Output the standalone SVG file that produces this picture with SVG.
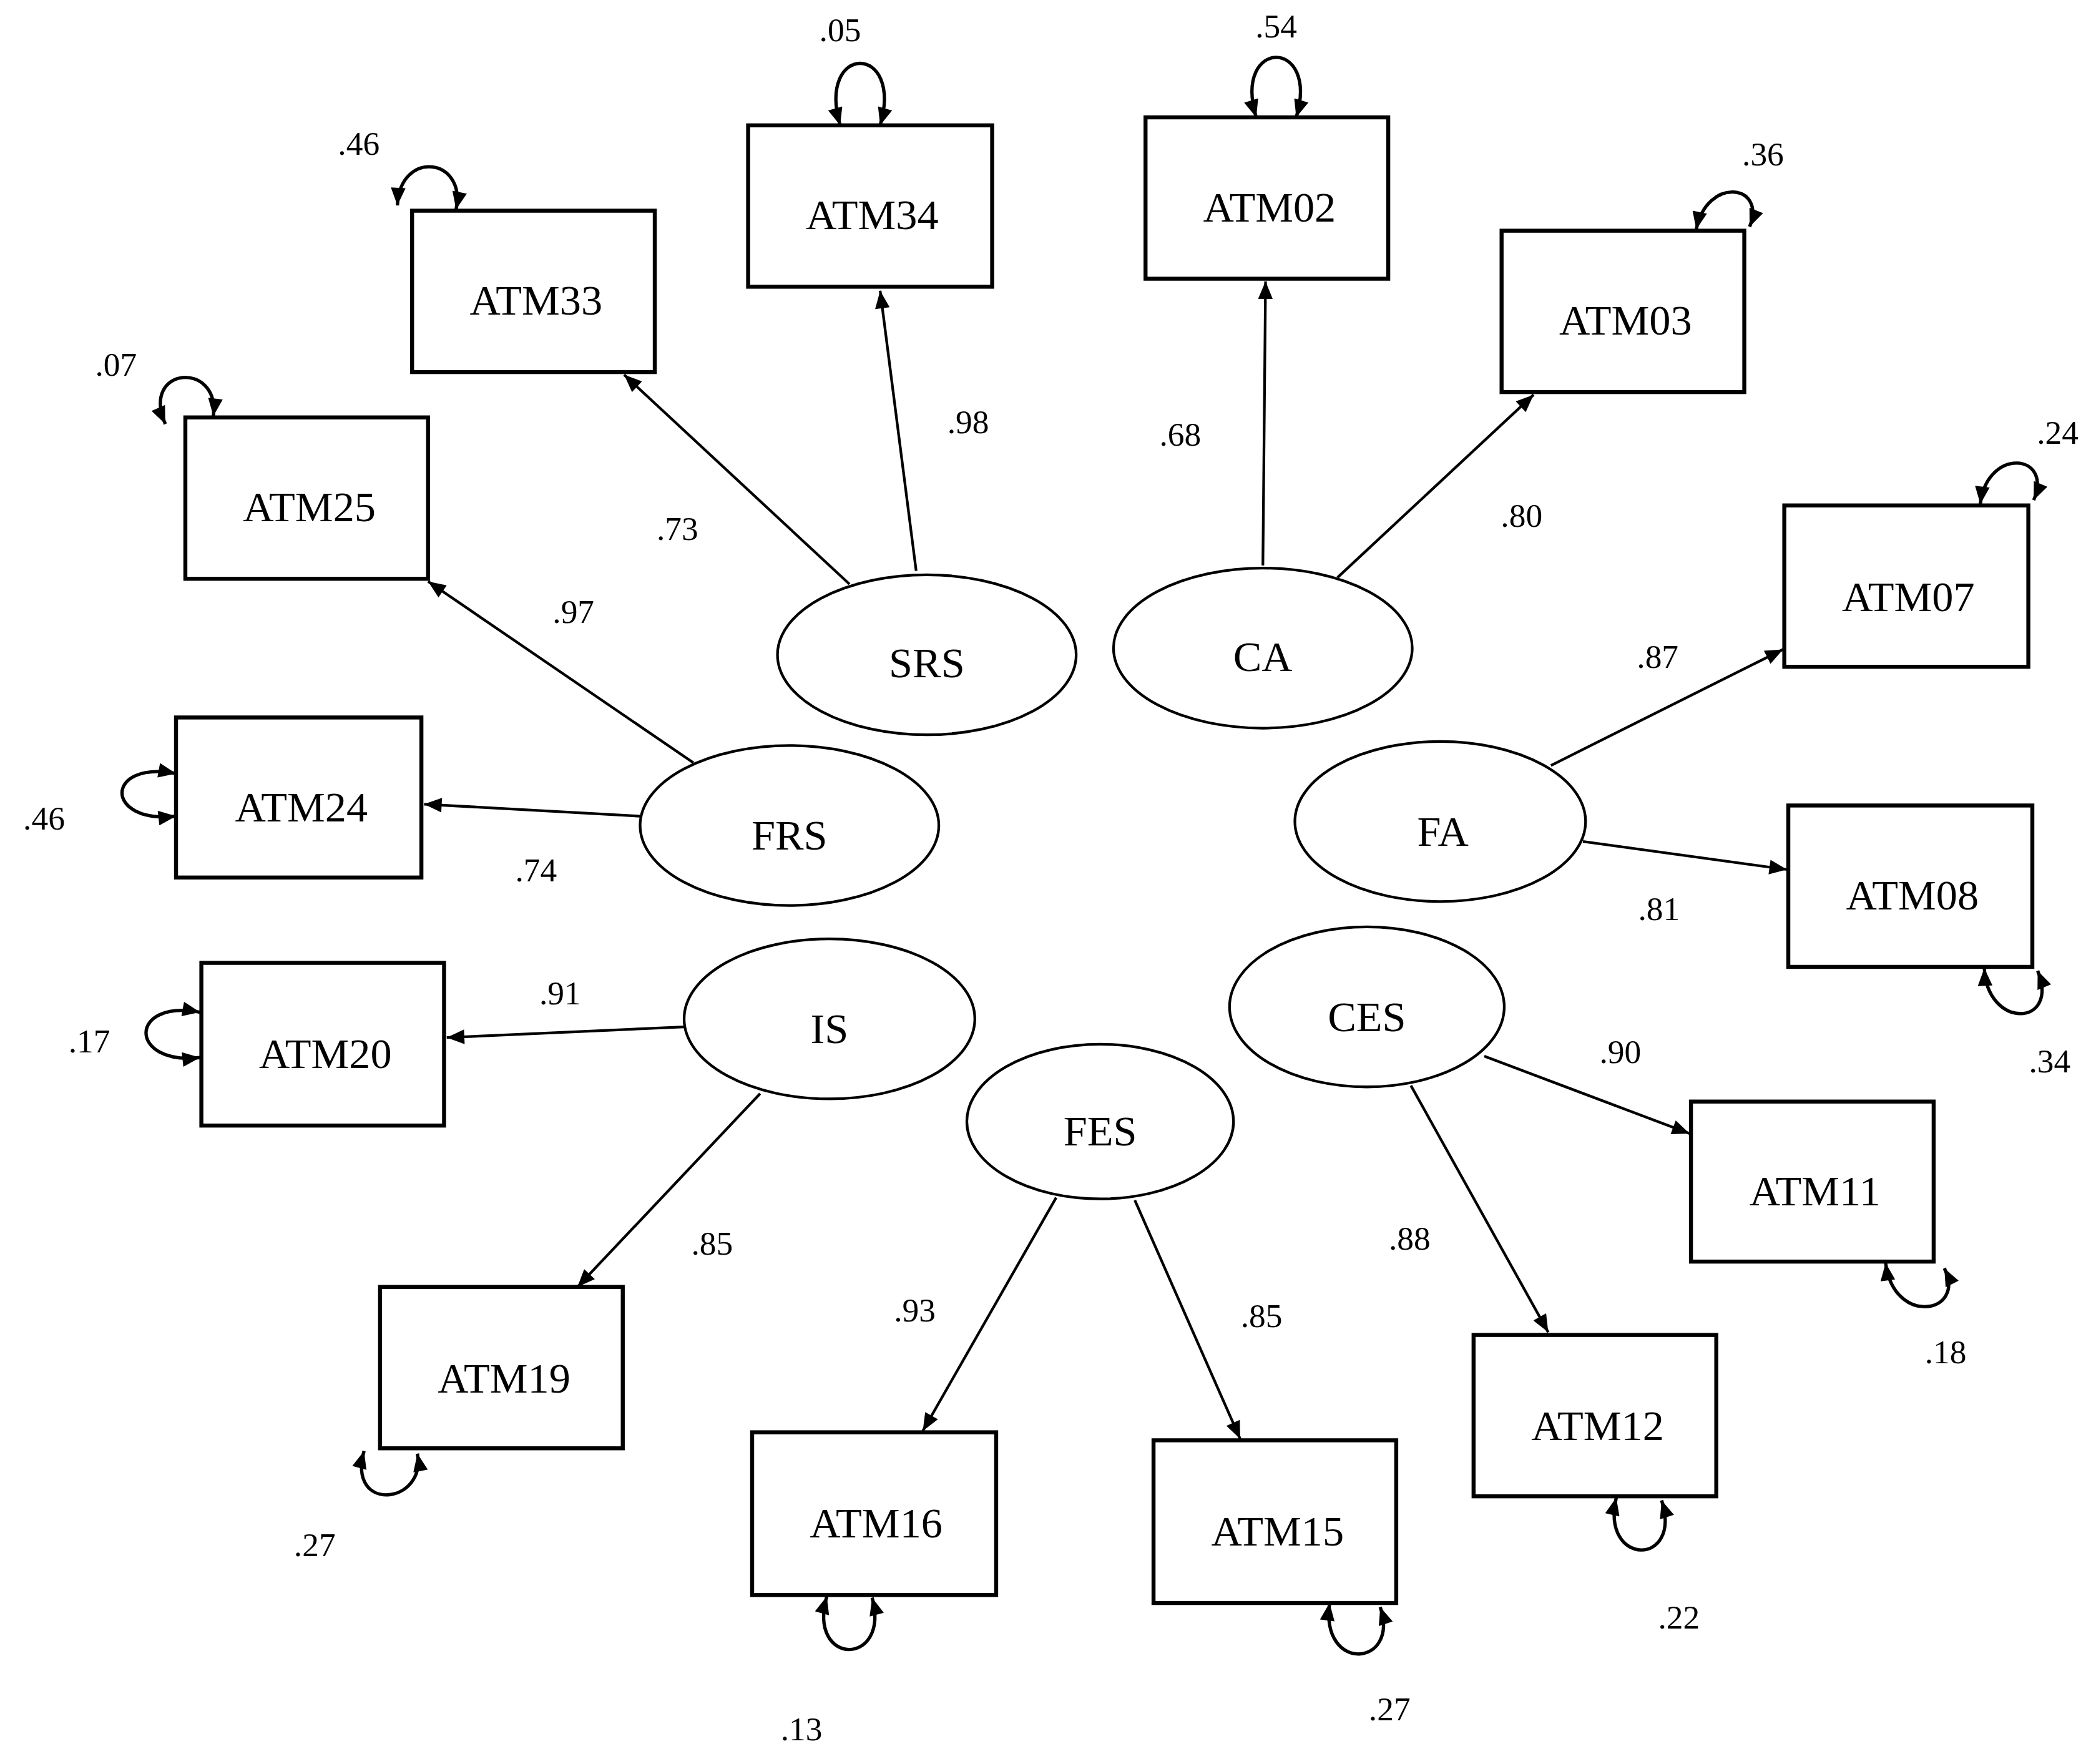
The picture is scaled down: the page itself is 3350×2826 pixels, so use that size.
<svg xmlns="http://www.w3.org/2000/svg" width="3350" height="2826" viewBox="0 0 3350 2826">
<style>
.box{fill:#fff;stroke:#000;stroke-width:3}
.lat{fill:#fff;stroke:#000;stroke-width:2}
.ln{fill:none;stroke:#000;stroke-width:2;marker-end:url(#ah)}
.lp{fill:none;stroke:#000;stroke-width:2.5;marker-end:url(#ah);marker-start:url(#ah)}
.t{font-family:"Liberation Serif",serif;font-size:32px;text-anchor:middle}
.n{font-family:"Liberation Serif",serif;font-size:25px;text-anchor:middle}
</style>
<defs>
<marker id="ah" viewBox="0 0 12 10" refX="12" refY="5" markerWidth="14" markerHeight="11" markerUnits="userSpaceOnUse" orient="auto-start-reverse"><path d="M0,0L12,5L0,10z" fill="#000"/></marker>
</defs>
<rect width="3350" height="2826" fill="#fff"/>
<g transform="scale(2.1365)">
<g id="connectors">
<path class="ln" d="M687,428L660,218"/>
<path class="ln" d="M637,438L468,281"/>
<path class="ln" d="M947,424L949,211"/>
<path class="ln" d="M1003,433L1150,296"/>
<path class="ln" d="M520,572L321,436"/>
<path class="ln" d="M480,612L318,603"/>
<path class="ln" d="M1163,574L1337,487"/>
<path class="ln" d="M1187,631L1340,652"/>
<path class="ln" d="M513,770L335,778"/>
<path class="ln" d="M570,820L433,965"/>
<path class="ln" d="M1113,792L1267,850"/>
<path class="ln" d="M1058,814L1161,999"/>
<path class="ln" d="M792,898L692,1073"/>
<path class="ln" d="M851,900L930,1079"/>
<path class="lp" d="M630,94C612,32 678,32 660,94"/>
<path class="lp" d="M942,88C924,28 990,28 972,88"/>
<path class="lp" d="M298,154C300,112 350,118 342,157"/>
<path class="lp" d="M1272,172C1280,132 1325,138 1312,170"/>
<path class="lp" d="M124,318C105,275 165,270 160,312"/>
<path class="lp" d="M1485,378C1490,335 1540,340 1525,375"/>
<path class="lp" d="M132,580C78,570 78,618 132,612"/>
<path class="lp" d="M150,759C96,749 96,799 150,793"/>
<path class="lp" d="M1488,726C1490,772 1545,770 1528,728"/>
<path class="lp" d="M1414,947C1420,995 1475,985 1458,951"/>
<path class="lp" d="M1212,1123C1200,1175 1262,1175 1246,1125"/>
<path class="lp" d="M997,1202C990,1255 1050,1250 1035,1205"/>
<path class="lp" d="M620,1197C605,1250 668,1250 654,1198"/>
<path class="lp" d="M273,1088C260,1135 320,1128 313,1090"/>
</g>
<g id="ATM34"><rect class="box" x="561" y="94" width="183" height="121"/><text class="t" x="654" y="172">ATM34</text></g>
<g id="ATM02"><rect class="box" x="859" y="88" width="182" height="121"/><text class="t" x="952" y="166">ATM02</text></g>
<g id="ATM33"><rect class="box" x="309" y="158" width="182" height="121"/><text class="t" x="402" y="236">ATM33</text></g>
<g id="ATM03"><rect class="box" x="1126" y="173" width="182" height="121"/><text class="t" x="1219" y="251">ATM03</text></g>
<g id="ATM25"><rect class="box" x="139" y="313" width="182" height="121"/><text class="t" x="232" y="391">ATM25</text></g>
<g id="ATM07"><rect class="box" x="1338" y="379" width="183" height="121"/><text class="t" x="1431" y="458">ATM07</text></g>
<g id="ATM24"><rect class="box" x="132" y="538" width="184" height="120"/><text class="t" x="226" y="616">ATM24</text></g>
<g id="ATM08"><rect class="box" x="1341" y="604" width="183" height="121"/><text class="t" x="1434" y="682">ATM08</text></g>
<g id="ATM20"><rect class="box" x="151" y="722" width="182" height="122"/><text class="t" x="244" y="801">ATM20</text></g>
<g id="ATM11"><rect class="box" x="1268" y="826" width="182" height="120"/><text class="t" x="1361" y="904">ATM11</text></g>
<g id="ATM19"><rect class="box" x="285" y="965" width="182" height="121"/><text class="t" x="378" y="1044">ATM19</text></g>
<g id="ATM12"><rect class="box" x="1105" y="1001" width="182" height="121"/><text class="t" x="1198" y="1080">ATM12</text></g>
<g id="ATM16"><rect class="box" x="564" y="1074" width="183" height="122"/><text class="t" x="657" y="1153">ATM16</text></g>
<g id="ATM15"><rect class="box" x="865" y="1080" width="182" height="122"/><text class="t" x="958" y="1159">ATM15</text></g>
<g id="SRS"><ellipse class="lat" cx="695" cy="491" rx="112" ry="60"/><text class="t" x="695" y="508">SRS</text></g>
<g id="CA"><ellipse class="lat" cx="947" cy="486" rx="112" ry="60"/><text class="t" x="947" y="503">CA</text></g>
<g id="FRS"><ellipse class="lat" cx="592" cy="619" rx="112" ry="60"/><text class="t" x="592" y="637">FRS</text></g>
<g id="FA"><ellipse class="lat" cx="1080" cy="616" rx="109" ry="60"/><text class="t" x="1082" y="634">FA</text></g>
<g id="IS"><ellipse class="lat" cx="622" cy="764" rx="109" ry="60"/><text class="t" x="622" y="782">IS</text></g>
<g id="CES"><ellipse class="lat" cx="1025" cy="755" rx="103" ry="60"/><text class="t" x="1025" y="773">CES</text></g>
<g id="FES"><ellipse class="lat" cx="825" cy="841" rx="100" ry="58"/><text class="t" x="825" y="859">FES</text></g>
<g id="labels">
<text class="n" x="726" y="325">.98</text>
<text class="n" x="508" y="405">.73</text>
<text class="n" x="885" y="334">.68</text>
<text class="n" x="1141" y="395">.80</text>
<text class="n" x="430" y="467">.97</text>
<text class="n" x="402" y="661">.74</text>
<text class="n" x="1243" y="501">.87</text>
<text class="n" x="1244" y="690">.81</text>
<text class="n" x="420" y="753">.91</text>
<text class="n" x="534" y="941">.85</text>
<text class="n" x="1215" y="797">.90</text>
<text class="n" x="1057" y="937">.88</text>
<text class="n" x="686" y="991">.93</text>
<text class="n" x="946" y="995">.85</text>
<text class="n" x="630" y="31">.05</text>
<text class="n" x="957" y="28">.54</text>
<text class="n" x="269" y="116">.46</text>
<text class="n" x="1322" y="124">.36</text>
<text class="n" x="87" y="282">.07</text>
<text class="n" x="1543" y="333">.24</text>
<text class="n" x="33" y="622">.46</text>
<text class="n" x="67" y="789">.17</text>
<text class="n" x="1537" y="804">.34</text>
<text class="n" x="1459" y="1022">.18</text>
<text class="n" x="1259" y="1221">.22</text>
<text class="n" x="1042" y="1290">.27</text>
<text class="n" x="601" y="1305">.13</text>
<text class="n" x="236" y="1167">.27</text>
</g>
</g>
</svg>
